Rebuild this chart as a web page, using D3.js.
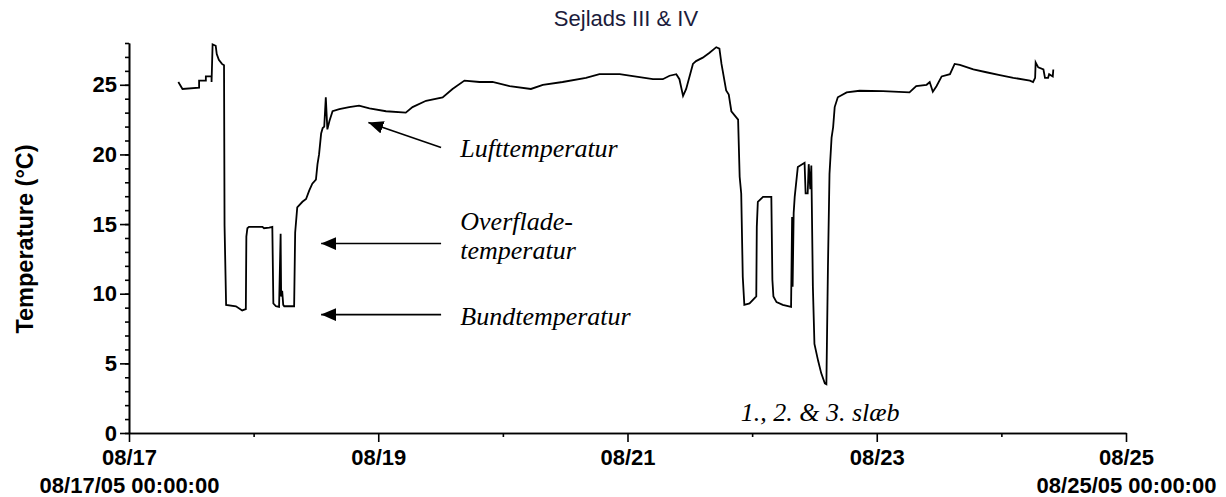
<!DOCTYPE html>
<html>
<head>
<meta charset="utf-8">
<script src="https://cdn.jsdelivr.net/npm/d3@7"></script>
<style>
body { margin: 0; background: #fff; }
svg text { font-family: "Liberation Sans", Arial, sans-serif; fill: #000; }
.axis path, .axis line { stroke: #000; stroke-width: 1.6px; }
.axis text { font-weight: bold; font-size: 22px; }
.note { font-family: "Liberation Serif", "Times New Roman", serif !important; font-style: italic; font-size: 26px; }
</style>
</head>
<body>
<script>
'use strict';

// hours after 08/17/05 00:00:00
const hours = [9.5, 10.3, 13.5, 13.5, 14.8, 14.8, 15.9, 15.9, 16.1, 16.7, 16.9, 17.3, 17.9, 18.3, 18.4, 18.7,
  20.6, 21.8, 22.5, 22.6, 22.8, 23.1, 25.7, 26.0, 27.0, 27.6, 27.8, 28.3, 28.9, 29.2, 29.3, 29.5, 29.7, 29.9,
  31.8, 32.0, 32.4, 33.4, 34.1, 34.7, 35.3, 36.0, 36.3, 36.6, 37.0, 37.3, 37.6, 37.9, 38.2, 38.6, 39.2, 40.5,
  42.4, 44.3, 46.3, 49.5, 53.3, 54.6, 57.2, 60.4, 62.3, 64.6, 67.5, 70.0, 73.3, 77.4, 79.7, 83.5, 88.0, 90.6,
  94.5, 96.4, 100.9, 102.8, 104.1, 105.4, 106.0, 106.7, 107.3, 108.6, 109.2, 110.5, 111.8, 113.1, 113.7, 114.1,
  115.0, 115.5, 116.0, 117.3, 117.6, 117.9, 118.2, 118.5, 119.5, 120.8, 120.9, 121.1, 122.1, 123.7, 123.9,
  124.1, 124.7, 125.9, 127.5, 127.7, 127.8, 128.0, 128.2, 128.8, 130.1, 130.3, 130.7, 130.9, 131.2, 131.4,
  131.7, 132.0, 132.7, 133.3, 134.0, 134.3, 134.6, 134.9, 135.3, 135.6, 135.9, 136.5, 138.2, 140.7, 145.2,
  150.3, 151.6, 153.6, 154.2, 154.8, 155.5, 156.5, 158.1, 159.0, 160.0, 162.6, 165.1, 167.7, 170.3, 173.5,
  174.1, 174.5, 174.6, 175.1, 176.1, 176.4, 177.0, 177.2, 177.9, 178.0];

const temps = [25.2, 24.7, 24.8, 25.3, 25.3, 25.6, 25.6, 25.2, 27.9, 27.8, 27.2, 26.8, 26.5, 26.4, 14.9, 9.2,
  9.1, 8.8, 8.9, 14.1, 14.7, 14.8, 14.8, 14.7, 14.75, 14.8, 9.3, 9.1, 9.05, 14.3, 9.8, 10.2, 9.2, 9.1,
  9.1, 14.4, 16.2, 16.6, 16.8, 17.4, 17.9, 18.2, 19.3, 20.0, 21.5, 21.9, 22.0, 24.1, 21.8, 22.4, 23.1, 23.26,
  23.4, 23.5, 23.3, 23.1, 23.0, 23.4, 23.85, 24.1, 24.7, 25.3, 25.2, 25.2, 24.9, 24.7, 25.0, 25.2, 25.5, 25.76,
  25.76, 25.65, 25.4, 25.4, 25.65, 25.76, 25.4, 24.2, 24.7, 26.5, 26.7, 26.95, 27.3, 27.7, 27.6, 26.5,
  24.6, 24.3, 23.1, 22.5, 18.4, 17.2, 11.2, 9.2, 9.3, 9.8, 14.8, 16.6, 16.95, 16.95, 11.0,
  9.8, 9.4, 9.2, 9.05, 15.5, 10.5, 15.8, 16.95, 19.1, 19.4, 17.2, 17.2, 19.3, 17.5, 19.2,
  10.5, 6.4, 5.2, 4.3, 3.56, 3.5, 11.9, 18.6, 21.2, 21.95, 23.4, 24.1, 24.45, 24.57, 24.55,
  24.45, 24.9, 25.0, 25.2, 24.5, 24.9, 25.6, 25.76, 26.5, 26.43, 26.1, 25.9, 25.7, 25.5, 25.3,
  25.2, 25.5, 26.6, 26.25, 26.1, 25.5, 25.5, 25.76, 25.6, 26.1];

const majorDays = [17, 19, 21, 23, 25];
const minorDays = [18, 20, 22, 24];
const majorTemps = [0, 5, 10, 15, 20, 25];
const minorTemps = d3.range(0, 29);

const title = "Sejlads III & IV";
const yTitle = "Temperature (\u00B0C)";

// annotations: label lines, text position (hour, temp), arrow from/to (hour, temp)
const notes = [
  {lines: ["Lufttemperatur"], h: 63.8, t: 19.8, from: [60.1, 20.5], to: [46.1, 22.3]},
  {lines: ["Overflade-", "temperatur"], h: 63.8, t: 14.6, from: [60.1, 13.6], to: [37.0, 13.6]},
  {lines: ["Bundtemperatur"], h: 63.8, t: 7.75, from: [60.1, 8.5], to: [37.0, 8.5]},
  {lines: ["1., 2. & 3. sl\u00E6b"], h: 117.8, t: 0.86}
];

const width = 1226, height = 497;
const margin = {top: 43, right: 100, bottom: 64, left: 129};

const base = Date.UTC(2005, 7, 17);
const toDate = (h) => new Date(base + h * 3600e3);
const dayDate = (d) => new Date(Date.UTC(2005, 7, d));

const data = hours.map((h, i) => ({date: toDate(h), temp: temps[i]}));

const x = d3.scaleUtc()
    .domain([dayDate(17), dayDate(25)])
    .range([margin.left, width - margin.right]);

const y = d3.scaleLinear()
    .domain([0, 28])
    .range([height - margin.bottom, margin.top]);

const svg = d3.select("body").append("svg")
    .attr("width", width)
    .attr("height", height);

svg.append("defs").append("marker")
    .attr("id", "arrow")
    .attr("markerUnits", "userSpaceOnUse")
    .attr("markerWidth", 16)
    .attr("markerHeight", 13)
    .attr("refX", 15)
    .attr("refY", 6.5)
    .attr("orient", "auto")
  .append("path")
    .attr("d", "M0,0 L15,6.5 L0,13 Z")
    .attr("fill", "#000");

// title
svg.append("text")
    .attr("x", 626)
    .attr("y", 26)
    .attr("text-anchor", "middle")
    .style("font-size", "22px")
    .style("fill", "#1c1c3c")
    .text(title);

// y axis
svg.append("g")
    .attr("class", "axis")
    .attr("transform", `translate(${margin.left},0)`)
    .call(d3.axisLeft(y).tickValues(minorTemps).tickSize(4).tickSizeOuter(0).tickFormat(""));

svg.append("g")
    .attr("class", "axis")
    .attr("transform", `translate(${margin.left},0)`)
    .call(d3.axisLeft(y).tickValues(majorTemps).tickSize(9).tickPadding(3).tickSizeOuter(0));

// x axis
svg.append("g")
    .attr("class", "axis")
    .attr("transform", `translate(0,${height - margin.bottom})`)
    .call(d3.axisBottom(x).tickValues(minorDays.map(dayDate)).tickSize(4).tickSizeOuter(0).tickFormat(""));

const xMajor = svg.append("g")
    .attr("class", "axis")
    .attr("transform", `translate(0,${height - margin.bottom})`)
    .call(d3.axisBottom(x).tickValues(majorDays.map(dayDate)).tickSize(9).tickPadding(7)
      .tickSizeOuter(0).tickFormat(d3.utcFormat("%m/%d")));

// long date under first and last tick
xMajor.selectAll(".tick")
  .filter((d, i) => i === 0 || i === majorDays.length - 1)
  .append("text")
    .attr("y", 44)
    .attr("dy", "0.71em")
    .text(d3.utcFormat("%m/%d/%y %H:%M:%S"));

svg.append("text")
    .attr("transform", `translate(33,${(y(0) + y(28)) / 2 + 1}) rotate(-90)`)
    .attr("text-anchor", "middle")
    .style("font-weight", "bold")
    .style("font-size", "23.5px")
    .text(yTitle);

// temperature line
svg.append("path")
    .datum(data)
    .attr("fill", "none")
    .attr("stroke", "#000")
    .attr("stroke-width", 1.8)
    .attr("stroke-linejoin", "miter")
    .attr("d", d3.line().x((d) => x(d.date)).y((d) => y(d.temp)));

// annotations
notes.forEach((n) => {
  n.lines.forEach((s, i) => {
    svg.append("text")
        .attr("class", "note")
        .attr("x", x(toDate(n.h)))
        .attr("y", y(n.t) + i * 29)
        .text(s);
  });
  if (n.from) {
    svg.append("line")
        .attr("x1", x(toDate(n.from[0])))
        .attr("y1", y(n.from[1]))
        .attr("x2", x(toDate(n.to[0])))
        .attr("y2", y(n.to[1]))
        .attr("stroke", "#000")
        .attr("stroke-width", 1.6)
        .attr("marker-end", "url(#arrow)");
  }
});
</script>
</body>
</html>
